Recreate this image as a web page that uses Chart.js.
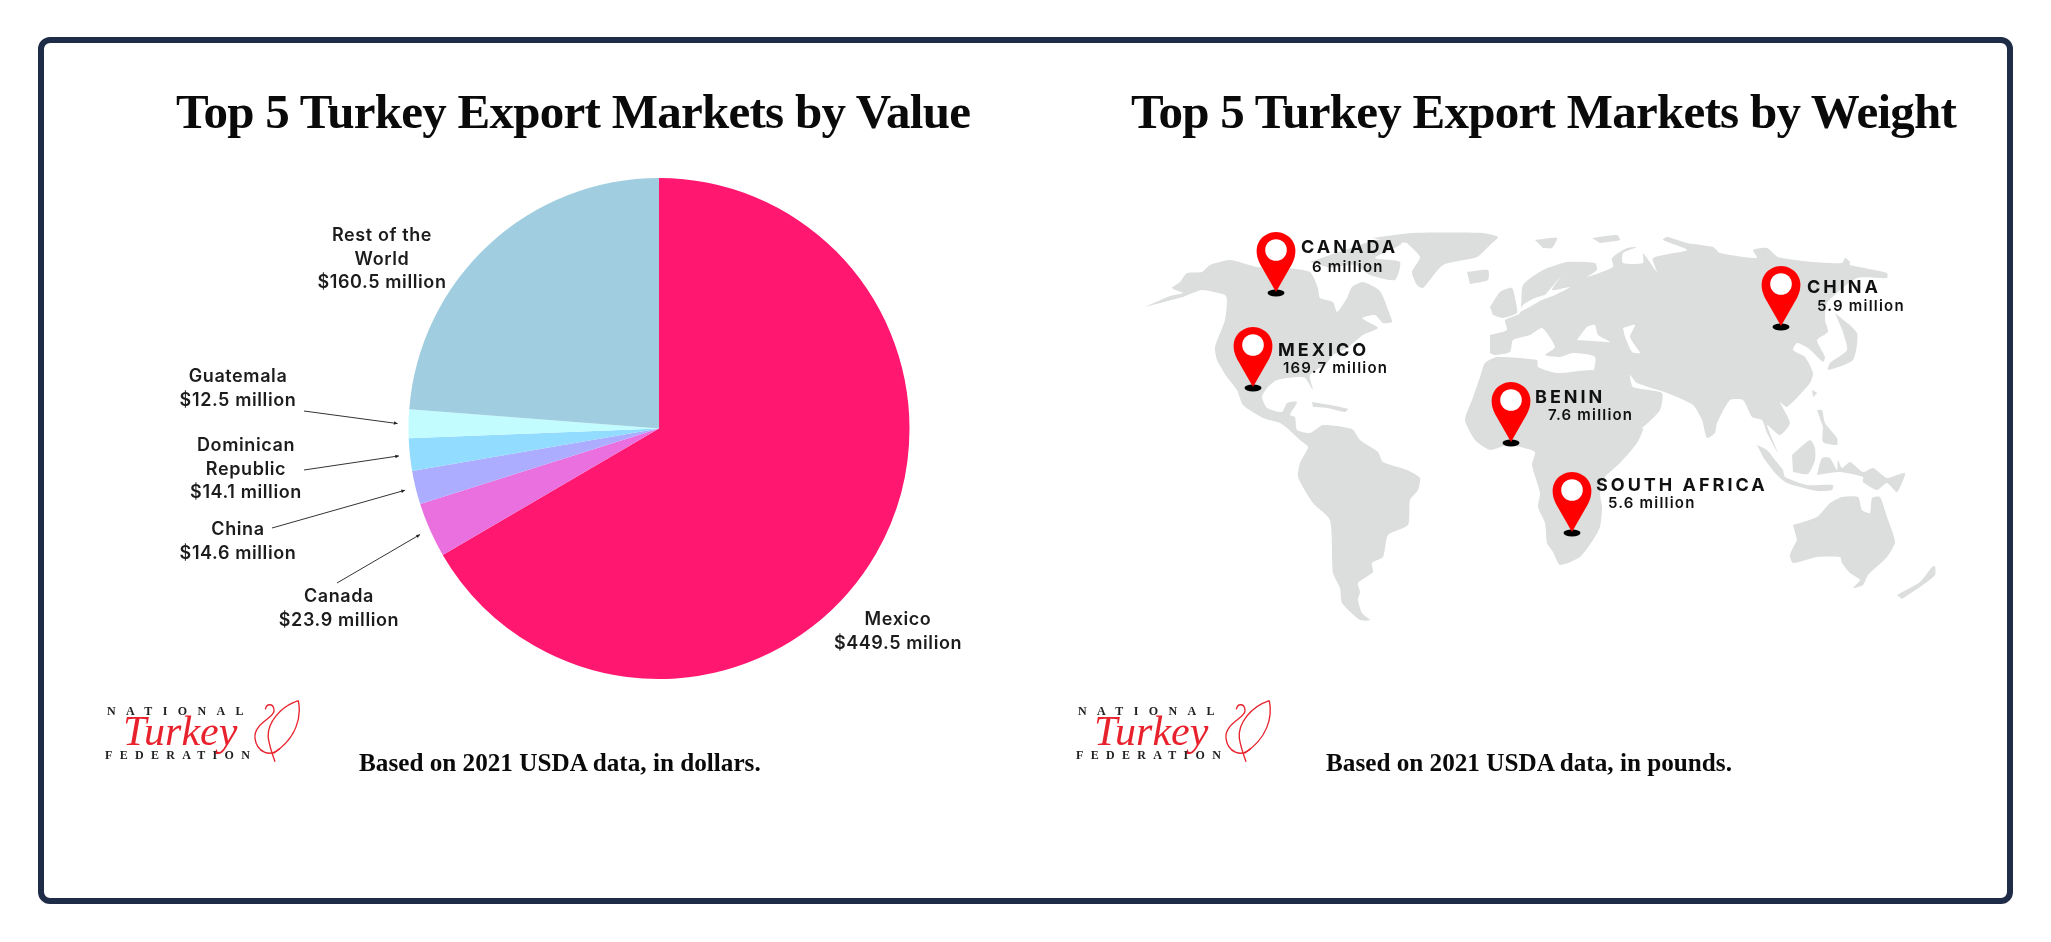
<!DOCTYPE html>
<html>

<head>
  <title>Top 5 Turkey Export Markets</title>
  <script src="https://cdn.jsdelivr.net/npm/chart.js"></script>
  <style>
    html, body { margin: 0; padding: 0; background: #fff; width: 2051px; height: 942px; overflow: hidden; }
    canvas { position: absolute; top: 0; }
    #valueChart { left: 0; }
    #weightChart { left: 1030px; }
    .frame {
      position: absolute; left: 38px; top: 37px; width: 1963px; height: 855px;
      border: 6px solid #1f2c47; border-radius: 12px; pointer-events: none;
    }
    h2, p { position: absolute; margin: 0; white-space: nowrap; color: #0a0a0a; font-family: "Liberation Serif", serif; font-weight: 700; }
    h2 { top: 80px; font-size: 49px; line-height: 64px; letter-spacing: -0.73px; }
    .note { top: 748px; font-size: 25.2px; line-height: 30px; }
    .logo { position: absolute; top: 680px; width: 240px; height: 110px; }
    .logo span { position: absolute; white-space: nowrap; }
    .logo .small { font: 700 12px/14px "Liberation Serif", serif; color: #222; }
    .logo .nat { left: 17px; top: 24px; letter-spacing: 10.4px; }
    .logo .fed { left: 15px; top: 68px; letter-spacing: 7.3px; }
    .logo .script { left: 33px; top: 29px; font: italic 400 42px/44px "Liberation Serif", serif; color: #e8222c; }
    .logo svg { position: absolute; left: 0; top: 0; }
  </style>
</head>

<body>
  <canvas id="valueChart" width="1030" height="942"></canvas>
  <canvas id="weightChart" width="1021" height="942"></canvas>
  <div class="frame"></div>

  <h2 style="left:176px">Top 5 Turkey Export Markets by Value</h2>
  <h2 style="left:1131px">Top 5 Turkey Export Markets by Weight</h2>
  <p class="note" style="left:359px">Based on 2021 USDA data, in dollars.</p>
  <p class="note" style="left:1326px">Based on 2021 USDA data, in pounds.</p>

  <div class="logo" style="left:90px">
    <span class="small nat">NATIONAL</span>
    <span class="script">Turkey</span>
    <span class="small fed">FEDERATION</span>
    <svg width="240" height="110" viewBox="0 0 720 330" fill="none" stroke="#e8222c" stroke-width="4">
      <path d="M625 62 C570 80 530 130 535 175 C540 205 548 225 555 245 M625 62 C635 110 620 175 550 220" />
      <path d="M526 88 C530 68 552 70 552 92 C552 115 490 130 495 175 C500 215 540 235 570 205" />
    </svg>
  </div>
  <div class="logo" style="left:1061px">
    <span class="small nat">NATIONAL</span>
    <span class="script">Turkey</span>
    <span class="small fed">FEDERATION</span>
    <svg width="240" height="110" viewBox="0 0 720 330" fill="none" stroke="#e8222c" stroke-width="4">
      <path d="M625 62 C570 80 530 130 535 175 C540 205 548 225 555 245 M625 62 C635 110 620 175 550 220" />
      <path d="M526 88 C530 68 552 70 552 92 C552 115 490 130 495 175 C500 215 540 235 570 205" />
    </svg>
  </div>

  <script>
    // Export value, million dollars
    const markets = ['Mexico', 'Canada', 'China', 'Dominican Republic', 'Guatemala', 'Rest of the World'];
    const marketValues = [449.5, 23.9, 14.6, 14.1, 12.5, 160.5];
    const marketColors = ['#ff1770', '#e970de', '#acadff', '#92dcff', '#c2fcff', '#a0cee0'];
    const marketNameLines = [['Mexico'], ['Canada'], ['China'], ['Dominican', 'Republic'], ['Guatemala'], ['Rest of the', 'World']];
    const marketValueText = ['$449.5 milion', '$23.9 million', '$14.6 million', '$14.1 million', '$12.5 million', '$160.5 million'];

    // Export weight, million pounds
    const pinCountries = ['CANADA', 'MEXICO', 'BENIN', 'SOUTH AFRICA', 'CHINA'];
    const pinWeights = [6, 169.7, 7.6, 5.6, 5.9];
    const pinX = [1276, 1253, 1511, 1572, 1781];
    const pinY = [292, 387, 442, 532, 326];

    // Land outlines in map units
    const americas = [[1145,307],[1170,296],[1183,293],[1172,288],[1180,282],[1187,273],[1202,272],[1210,265],[1230,260],[1257,267],[1285,268],[1310,272],[1318,288],[1320,298],[1333,302],[1337,312],[1347,298],[1352,287],[1363,282],[1380,291],[1390,315],[1392,322],[1383,323],[1375,315],[1362,318],[1370,323],[1378,328],[1363,335],[1347,348],[1333,355],[1327,363],[1310,375],[1313,390],[1305,378],[1297,377],[1277,380],[1267,388],[1262,397],[1267,408],[1282,412],[1287,403],[1297,402],[1290,415],[1295,417],[1297,430],[1310,433],[1323,425],[1352,429],[1360,440],[1378,452],[1383,462],[1407,470],[1420,478],[1418,490],[1410,500],[1408,525],[1388,535],[1383,557],[1372,563],[1373,572],[1358,583],[1360,592],[1358,600],[1362,613],[1370,620],[1360,620],[1342,603],[1340,588],[1333,573],[1330,520],[1313,503],[1298,477],[1300,463],[1308,447],[1300,440],[1287,428],[1280,423],[1263,418],[1243,405],[1237,390],[1227,377],[1217,360],[1215,347],[1225,320],[1227,300],[1225,295],[1202,290],[1183,297]];
    const cuba = [[1312,402],[1330,405],[1348,409],[1345,412],[1327,408],[1313,407]];
    const arcticCanada = [[1310,262],[1330,255],[1360,245],[1375,240],[1405,238],[1400,245],[1375,258],[1400,262],[1395,280],[1370,275],[1355,265],[1330,268]];
    const greenland = [[1372,238],[1413,233],[1483,233],[1498,237],[1490,245],[1477,257],[1443,265],[1423,288],[1417,285],[1412,272],[1420,257],[1407,243]];
    const iceland = [[1467,272],[1488,270],[1488,280],[1470,284]];
    const britain = [[1490,307],[1500,292],[1512,288],[1516,303],[1517,313],[1503,318],[1493,315]];
    const svalbard = [[1535,240],[1557,238],[1552,248],[1543,248]];
    const novaya = [[1592,238],[1617,235],[1620,240],[1600,243]];
    const eurasia = [[1490,335],[1507,330],[1505,320],[1520,313],[1523,285],[1543,270],[1567,262],[1595,263],[1597,270],[1587,277],[1613,267],[1612,258],[1627,248],[1637,247],[1623,253],[1623,263],[1643,263],[1643,253],[1657,272],[1653,258],[1687,250],[1663,240],[1667,237],[1687,243],[1713,247],[1720,253],[1757,258],[1753,250],[1767,248],[1778,257],[1813,262],[1842,263],[1845,258],[1850,262],[1850,265],[1887,273],[1887,278],[1857,278],[1827,303],[1825,320],[1828,332],[1817,340],[1825,357],[1823,362],[1808,348],[1797,343],[1793,350],[1805,357],[1813,373],[1810,383],[1787,407],[1780,402],[1790,423],[1780,435],[1767,425],[1778,453],[1767,433],[1762,420],[1752,417],[1743,400],[1730,400],[1717,423],[1715,433],[1707,438],[1702,420],[1693,405],[1667,393],[1637,383],[1630,375],[1633,387],[1662,393],[1660,410],[1643,427],[1623,437],[1612,417],[1595,383],[1593,377],[1595,357],[1573,353],[1560,357],[1545,355],[1555,347],[1542,328],[1530,335],[1513,340],[1510,352],[1495,355],[1490,353]];
    const africa = [[1480,377],[1485,363],[1497,357],[1537,360],[1538,367],[1557,373],[1593,370],[1597,378],[1623,433],[1643,428],[1637,443],[1620,463],[1605,477],[1600,493],[1602,507],[1600,527],[1593,540],[1580,557],[1560,565],[1553,552],[1547,543],[1545,523],[1538,507],[1540,493],[1532,465],[1535,452],[1520,447],[1507,445],[1490,450],[1475,440],[1465,420],[1472,400]];
    const sumatraJava = [[1757,445],[1767,450],[1775,460],[1783,470],[1785,477],[1807,485],[1833,485],[1832,490],[1817,491],[1787,483],[1775,473],[1763,457]];
    const borneo = [[1792,455],[1810,440],[1815,448],[1815,460],[1808,474],[1793,472]];
    const philippines = [[1817,410],[1822,410],[1825,423],[1837,438],[1837,445],[1823,442],[1823,427]];
    const newGuinea = [[1817,475],[1822,458],[1830,458],[1837,470],[1838,460],[1842,468],[1850,462],[1863,472],[1873,468],[1887,478],[1905,473],[1897,492],[1887,483],[1877,490],[1863,482],[1863,477],[1840,472],[1823,474]];
    const japan = [[1835,313],[1857,333],[1853,360],[1828,370],[1830,363],[1847,350],[1843,332]];
    const taiwan = [[1812,390],[1817,393],[1813,397]];
    const australia = [[1793,525],[1817,517],[1830,503],[1842,497],[1858,497],[1862,510],[1870,513],[1872,498],[1880,497],[1887,517],[1895,542],[1887,557],[1868,575],[1863,585],[1853,588],[1860,580],[1850,573],[1842,563],[1840,557],[1817,557],[1793,563],[1790,555],[1797,540]];
    const newZealand = [[1897,595],[1920,582],[1932,567],[1935,566],[1935,575],[1920,587],[1902,599]];
    const blackSea = [[1577,340],[1587,327],[1595,325],[1598,335],[1610,342],[1593,341]];
    const caspian = [[1623,328],[1635,325],[1630,337],[1640,353],[1632,352],[1625,337]];
    const baltic = [[1562,275],[1552,290],[1570,287],[1555,295],[1542,300],[1520,312],[1523,305],[1535,298],[1545,295]];

    const lands = [americas, cuba, arcticCanada, greenland, iceland, britain, svalbard, novaya, eurasia, africa,
      sumatraJava, borneo, philippines, newGuinea, japan, taiwan, australia, newZealand];
    const seas = [blackSea, caspian, baltic];

    const labelFont = '600 18px Inter, sans-serif';
    const labelColor = '#1c1c1c';

    // Where each pie label block sits: centre x, first line centre y
    const pieLabelSpots = [[898, 620], [339, 597], [238, 530], [246, 446], [238, 377], [382, 236]];
    // Where each leader starts; Mexico and the rest need none
    const leaderStarts = [null, [337, 583], [272, 528], [304, 470], [304, 411], null];

    const pieLabels = {
      id: 'pieLabels',
      afterDraw(chart) {
        const ctx = chart.ctx;
        const arcs = chart.getDatasetMeta(0).data;
        ctx.save();
        ctx.font = labelFont;
        ctx.letterSpacing = '0.6px';
        ctx.fillStyle = labelColor;
        ctx.textAlign = 'center';
        ctx.textBaseline = 'middle';
        markets.forEach((m, i) => {
          const lines = marketNameLines[i].concat(marketValueText[i]);
          lines.forEach((t, k) => ctx.fillText(t, pieLabelSpots[i][0], pieLabelSpots[i][1] + k * 23.3));
        });
        ctx.strokeStyle = '#333';
        ctx.fillStyle = '#222';
        ctx.lineWidth = 1;
        leaderStarts.forEach((start, i) => {
          if (!start) return;
          const arc = arcs[i];
          const mid = (arc.startAngle + arc.endAngle) / 2;
          const r = arc.outerRadius + 11;
          const ex = arc.x + Math.cos(mid) * r;
          const ey = arc.y + Math.sin(mid) * r;
          ctx.beginPath();
          ctx.moveTo(start[0], start[1]);
          ctx.lineTo(ex, ey);
          ctx.stroke();
          const a = Math.atan2(ey - start[1], ex - start[0]);
          ctx.beginPath();
          ctx.moveTo(ex, ey);
          ctx.lineTo(ex - 4 * Math.cos(a - 0.45), ey - 4 * Math.sin(a - 0.45));
          ctx.lineTo(ex - 4 * Math.cos(a + 0.45), ey - 4 * Math.sin(a + 0.45));
          ctx.closePath();
          ctx.fill();
        });
        ctx.restore();
      }
    };

    new Chart(document.getElementById('valueChart'), {
      type: 'pie',
      data: {
        labels: markets,
        datasets: [{ data: marketValues, backgroundColor: marketColors, borderWidth: 0 }]
      },
      options: {
        responsive: false,
        animation: false,
        layout: { padding: { left: 408, right: 120, top: 178, bottom: 263 } },
        plugins: { legend: { display: false }, tooltip: { enabled: false } }
      },
      plugins: [pieLabels]
    });

    // Map pin drawn once, tip at the middle of the little canvas
    function makePin() {
      const c = document.createElement('canvas');
      c.width = 60;
      c.height = 124;
      const g = c.getContext('2d');
      const tipY = 62;
      g.fillStyle = '#000';
      g.beginPath();
      g.ellipse(30, tipY + 1, 8.5, 3.4, 0, 0, Math.PI * 2);
      g.fill();
      g.fillStyle = '#ff0000';
      g.beginPath();
      g.moveTo(30, tipY);
      g.lineTo(14, tipY - 28);
      g.bezierCurveTo(4, tipY - 48, 18, tipY - 60, 30, tipY - 60);
      g.bezierCurveTo(42, tipY - 60, 56, tipY - 48, 46, tipY - 28);
      g.closePath();
      g.fill();
      g.fillStyle = '#fff';
      g.beginPath();
      g.arc(30, tipY - 42, 10.8, 0, Math.PI * 2);
      g.fill();
      return c;
    }

    // Text offsets from the pin tip: name x, name baseline, value x, value baseline
    const pinLabelOffsets = [[25, -39, 36, -20], [25, -31, 30, -14], [24, -39, 37, -22], [24, -41, 36, -24], [26, -33, 36, -15]];

    const pinLabels = {
      id: 'pinLabels',
      afterDraw(chart) {
        const ctx = chart.ctx;
        const pts = chart.getDatasetMeta(0).data;
        ctx.save();
        ctx.fillStyle = '#111';
        ctx.textAlign = 'left';
        ctx.textBaseline = 'alphabetic';
        pts.forEach((p, i) => {
          const o = pinLabelOffsets[i];
          ctx.font = '700 18px Inter, sans-serif';
          ctx.letterSpacing = '3px';
          ctx.fillText(pinCountries[i], p.x + o[0], p.y + o[1]);
          ctx.font = '600 15px Inter, sans-serif';
          ctx.letterSpacing = '1.2px';
          ctx.fillText(pinWeights[i] + ' million', p.x + o[2], p.y + o[3]);
        });
        ctx.restore();
      }
    };

    const toXY = pts => pts.map(([x, y]) => ({ x, y }));
    const shapeSet = (pts, color) => ({
      data: toXY(pts),
      showLine: true,
      fill: 'shape',
      backgroundColor: color,
      borderColor: color,
      borderWidth: 0,
      pointRadius: 0,
      tension: 0.2
    });

    new Chart(document.getElementById('weightChart'), {
      type: 'scatter',
      data: {
        datasets: [
          {
            data: pinX.map((x, i) => ({ x, y: pinY[i] })),
            pointStyle: makePin(),
            pointRadius: 30,
            showLine: false
          },
          ...seas.map(s => shapeSet(s, '#ffffff')),
          ...lands.map(l => shapeSet(l, '#dcdedd'))
        ]
      },
      options: {
        responsive: false,
        animation: false,
        layout: { padding: 0, autoPadding: false },
        scales: {
          x: { type: 'linear', min: 1030, max: 2051, display: false },
          y: { type: 'linear', min: 0, max: 942, reverse: true, display: false }
        },
        plugins: { legend: { display: false }, tooltip: { enabled: false } }
      },
      plugins: [pinLabels]
    });
  </script>
</body>

</html>
